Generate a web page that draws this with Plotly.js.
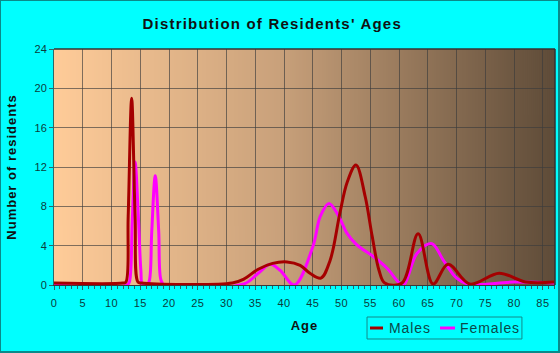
<!DOCTYPE html>
<html>
<head>
<meta charset="utf-8">
<script src="https://cdn.plot.ly/plotly-3.0.1.min.js"></script>
<style>
html,body{margin:0;padding:0;background:#00FFFF;}
#wrap{width:560px;height:353px;box-sizing:border-box;border:1px solid #0a8a8a;border-right-width:2px;border-bottom-width:2px;overflow:hidden;}
#chart{width:557px;height:350px;}
.gtitle{letter-spacing:1.2px;}
.xtitle,.ytitle{letter-spacing:1px;}
.annotation-text{letter-spacing:0.9px;}
.xtick text{letter-spacing:0.5px;}
</style>
</head>
<body>
<div id="wrap"><div id="chart"></div></div>
<script>
// Data
var maleAges   = [0, 12, 12.5, 12.9, 13.5, 14.1, 14.6, 15.2, 31, 33, 35.5, 38, 40.5, 42.8, 44.5, 46.4, 48, 49.7, 51, 52.5, 54.1, 55.3, 56.5, 57.5, 60.5, 63.3, 65.9, 68.5, 72.3, 77.4, 82, 87];
var maleCounts = [0.2, 0.2, 0.3, 7, 19, 7, 0.3, 0.2, 0.2, 0.6, 1.6, 2.2, 2.35, 2.0, 1.2, 0.7, 2.5, 7.3, 10.5, 12.2, 9.0, 5.0, 1.5, 0.2, 0.2, 5.2, 0.1, 2.1, 0.1, 1.2, 0.3, 0.3];

var femaleAges   = [0, 12.7, 13.1, 13.6, 14.1, 14.7, 15.1, 15.4, 16.2, 16.6, 17.0, 17.6, 18.2, 18.6, 19.2, 33, 35.5, 37.6, 39.3, 41.8, 45, 46.3, 47.8, 49.5, 50.9, 52.6, 55.5, 57.9, 59.9, 60.8, 63.1, 65.7, 67.7, 70, 72, 80, 87];
var femaleCounts = [0, 0, 0.3, 6.5, 12.5, 6.5, 1.5, 0, 0, 0.5, 5.5, 11.1, 5.5, 0.5, 0, 0.1, 1.2, 2.1, 1.5, 0, 3.9, 7, 8.3, 7, 5.3, 4.1, 2.9, 1.7, 0.3, 0, 3.2, 4.2, 2.5, 0.7, 0.1, 0.3, 0.2];

var seriesNames = ['Males', 'Females'];
var seriesColors = ['#A50000', '#FF00FF'];
var xTickVals = [0,5,10,15,20,25,30,35,40,45,50,55,60,65,70,75,80,85];
var yTickVals = [0,4,8,12,16,20,24];

// gradient background image
var cv = document.createElement('canvas');
cv.width = 500; cv.height = 2;
var ctx = cv.getContext('2d');
var g = ctx.createLinearGradient(0,0,500,0);
g.addColorStop(0, '#FFCC99');
g.addColorStop(0.45, '#C9A17B');
g.addColorStop(1, '#5E4B38');
ctx.fillStyle = g; ctx.fillRect(0,0,500,2);
var bgURL = cv.toDataURL('image/png');

var traces = [
  {x: femaleAges, y: femaleCounts, name: seriesNames[1], type: 'scatter', mode: 'lines',
   line: {color: seriesColors[1], width: 3, shape: 'spline', smoothing: 1}},
  {x: maleAges, y: maleCounts, name: seriesNames[0], type: 'scatter', mode: 'lines',
   line: {color: seriesColors[0], width: 3, shape: 'spline', smoothing: 1}}
];

// custom legend (paper coordinates)
var lgX0 = 0.6248, lgX1 = 0.934, lgY0 = -0.1356, lgY1 = -0.2288, lgYc = -0.1822;
var legendItems = [
  {name: seriesNames[0], color: seriesColors[0], l0: 0.6307, l1: 0.6567, tx: 0.6647},
  {name: seriesNames[1], color: seriesColors[1], l0: 0.7705, l1: 0.8004, tx: 0.8064}
];
var shapes = [
  {type: 'line', xref: 'paper', yref: 'paper', x0: 0, x1: 1, y0: 1, y1: 1, line: {color: '#333', width: 1.5}},
  {type: 'line', xref: 'paper', yref: 'paper', x0: 1, x1: 1, y0: 0, y1: 1, line: {color: '#333', width: 1.5}},
  {type: 'rect', xref: 'paper', yref: 'paper', x0: lgX0, x1: lgX1, y0: lgY0, y1: lgY1, line: {color: '#138a8a', width: 1}}
];
var annotations = [];
legendItems.forEach(function(it){
  shapes.push({type: 'line', xref: 'paper', yref: 'paper', x0: it.l0, x1: it.l1, y0: lgYc, y1: lgYc, line: {color: it.color, width: 3}});
  annotations.push({xref: 'paper', yref: 'paper', x: it.tx, y: lgYc, xanchor: 'left', yanchor: 'middle',
    text: it.name, showarrow: false, font: {size: 14, color: '#0b4a4a'}});
});

var layout = {
  width: 557, height: 350,
  margin: {l: 53, r: 3, t: 48, b: 66, autoexpand: false},
  paper_bgcolor: '#00FFFF',
  plot_bgcolor: 'rgba(0,0,0,0)',
  font: {family: 'Liberation Sans, Arial, sans-serif', color: '#0b3c3c'},
  title: {text: "Distribution of Residents' Ages", x: 0.487, xref: 'container', y: 0.935, yref: 'container',
          xanchor: 'center', yanchor: 'middle',
          font: {size: 15, color: '#111', family: 'Liberation Sans, Arial, sans-serif', weight: 'bold'}},
  xaxis: {
    range: [0, 87.1], tickvals: xTickVals, ticktext: xTickVals.map(String),
    showgrid: true, gridcolor: 'rgba(60,60,60,0.65)', gridwidth: 1,
    ticks: 'outside', ticklen: 4, tickcolor: '#2a6a6a', ticklabelstandoff: 4,
    minor: {dtick: 1, ticks: 'outside', ticklen: 3, tickcolor: '#2a6a6a', showgrid: false},
    showline: true, linecolor: '#3a3a3a', mirror: false, zeroline: false,
    tickfont: {size: 11, color: '#0b3c3c'},
    title: {text: 'Age', standoff: 12, font: {size: 13, weight: 'bold', color: '#111'}}
  },
  yaxis: {
    range: [0, 24], tickvals: yTickVals, ticktext: yTickVals.map(String),
    showgrid: true, gridcolor: 'rgba(60,60,60,0.65)', gridwidth: 1,
    ticks: 'outside', ticklen: 4, tickcolor: '#2a6a6a',
    showline: true, linecolor: '#2a6a6a', zeroline: false,
    tickfont: {size: 11, color: '#0b3c3c'},
    title: {text: 'Number of residents', standoff: 14, font: {size: 13, weight: 'bold', color: '#111'}}
  },
  shapes: shapes,
  annotations: annotations,
  images: [{source: bgURL, xref: 'paper', yref: 'paper', x: 0, y: 1, sizex: 1, sizey: 1,
            sizing: 'stretch', layer: 'below', xanchor: 'left', yanchor: 'top'}],
  showlegend: false
};

Plotly.newPlot('chart', traces, layout, {displayModeBar: false, staticPlot: true});
</script>
</body>
</html>
